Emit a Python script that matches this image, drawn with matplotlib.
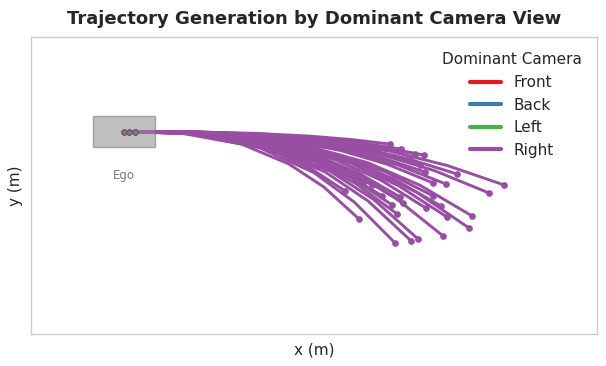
import matplotlib
matplotlib.use("Agg")
import matplotlib.pyplot as plt
from matplotlib.patches import Rectangle
from matplotlib.lines import Line2D
import seaborn as sns

sns.set_theme(style="whitegrid")
plt.rcParams['font.family'] = ['DejaVu Sans']

title = "Trajectory Generation by Dominant Camera View"
cameras = ["Front", "Back", "Left", "Right"]
camera_colors = ["#e41a1c", "#377eb8", "#4daf4a", "#984ea3"]

# Trajectory waypoints (meters); all have dominant camera "Right"
traj_x = [
    [0.0, 4.29, 8.58, 12.01, 14.59, 17.16],
    [0.35, 4.47, 8.94, 12.51, 15.19, 17.87],
    [0.7, 4.84, 9.68, 13.55, 16.45, 19.35],
    [0.0, 5.37, 10.74, 15.04, 18.26, 21.48],
    [0.35, 5.19, 10.39, 14.54, 17.65, 20.77],
    [0.7, 4.99, 9.97, 13.96, 16.95, 19.94],
    [0.0, 4.86, 9.71, 13.59, 16.51, 19.42],
    [0.35, 6.13, 12.26, 17.16, 20.84, 24.52],
    [0.7, 5.89, 11.78, 16.49, 20.02, 23.55],
    [0.0, 5.61, 11.23, 15.72, 19.08, 22.45],
    [0.35, 5.57, 11.13, 15.58, 18.92, 22.26],
    [0.7, 5.15, 10.29, 14.41, 17.49, 20.58],
    [0.0, 5.21, 10.42, 14.59, 17.71, 20.84],
    [0.35, 5.11, 10.23, 14.32, 17.38, 20.45],
    [0.7, 4.87, 9.74, 13.64, 16.56, 19.48],
    [0.0, 4.74, 9.49, 13.28, 16.12, 18.97],
    [0.35, 4.63, 9.26, 12.96, 15.74, 18.52],
    [0.7, 4.37, 8.74, 12.24, 14.86, 17.48],
    [0.0, 4.40, 8.81, 12.33, 14.97, 17.61],
    [0.35, 4.50, 9.00, 12.60, 15.30, 18.00],
    [0.7, 4.16, 8.33, 11.66, 14.15, 16.65],
    [0.0, 4.45, 8.91, 12.47, 15.14, 17.81],
    [0.35, 3.79, 7.58, 10.61, 12.89, 15.16],
    [0.7, 3.57, 7.13, 9.98, 12.12, 14.26],
    [0.0, 4.00, 8.00, 11.20, 13.60, 16.00],
    [0.35, 4.78, 9.55, 13.37, 16.24, 19.10],
    [0.7, 4.99, 9.97, 13.96, 16.95, 19.94],
    [0.0, 4.32, 8.65, 12.10, 14.70, 17.29],
    [0.35, 4.69, 9.39, 13.14, 15.95, 18.77],
    [0.7, 3.86, 7.71, 10.79, 13.11, 15.42],
    [0.0, 4.61, 9.23, 12.92, 15.68, 18.45],
]
traj_y = [
    [0.0, -0.02, -0.12, -0.30, -0.51, -0.81],
    [0.0, -0.02, -0.16, -0.42, -0.72, -1.13],
    [0.0, -0.03, -0.22, -0.56, -0.96, -1.52],
    [0.0, -0.06, -0.39, -1.01, -1.74, -2.74],
    [0.0, -0.07, -0.49, -1.25, -2.15, -3.39],
    [0.0, -0.07, -0.48, -1.22, -2.10, -3.32],
    [0.0, -0.05, -0.38, -0.96, -1.65, -2.61],
    [0.0, -0.07, -0.50, -1.27, -2.19, -3.45],
    [0.0, -0.08, -0.57, -1.46, -2.52, -3.97],
    [0.0, -0.11, -0.78, -2.01, -3.46, -5.45],
    [0.0, -0.13, -0.90, -2.29, -3.95, -6.23],
    [0.0, -0.14, -0.97, -2.48, -4.27, -6.74],
    [0.0, -0.12, -0.79, -2.03, -3.50, -5.52],
    [0.0, -0.10, -0.69, -1.77, -3.05, -4.81],
    [0.0, -0.10, -0.71, -1.82, -3.13, -4.94],
    [0.0, -0.15, -1.00, -2.55, -4.40, -6.94],
    [0.0, -0.15, -1.02, -2.60, -4.48, -7.06],
    [0.0, -0.15, -1.04, -2.65, -4.56, -7.19],
    [0.0, -0.11, -0.77, -1.96, -3.37, -5.32],
    [0.0, -0.10, -0.66, -1.70, -2.92, -4.61],
    [0.0, -0.09, -0.60, -1.53, -2.64, -4.16],
    [0.0, -0.09, -0.61, -1.56, -2.68, -4.23],
    [0.0, -0.12, -0.81, -2.08, -3.58, -5.65],
    [0.0, -0.08, -0.55, -1.41, -2.43, -3.84],
    [0.0, -0.07, -0.50, -1.27, -2.19, -3.45],
    [0.0, -0.05, -0.31, -0.79, -1.37, -2.16],
    [0.0, -0.09, -0.60, -1.53, -2.64, -4.16],
    [0.0, -0.10, -0.68, -1.74, -3.01, -4.74],
    [0.0, -0.03, -0.21, -0.53, -0.92, -1.45],
    [0.0, -0.07, -0.48, -1.22, -2.10, -3.32],
    [0.0, -0.04, -0.26, -0.68, -1.17, -1.84],
]
traj_camera = ["Right"] * len(traj_x)

fig = plt.figure(figsize=(6.06, 3.66), dpi=100)
ax = fig.add_axes([31/606, 1-334/366, (597-31)/606, (334-37)/366])
ax.set_facecolor("white")

for xs, ys, cam in zip(traj_x, traj_y, traj_camera):
    c = camera_colors[cameras.index(cam)]
    ax.plot(xs, ys, color=c, lw=2.1, solid_capstyle="round",
            solid_joinstyle="round", zorder=2)
    ax.plot(xs[-1], ys[-1], "o", color=c, ms=3.8, zorder=3)
    ax.plot(xs[0], ys[0], "o", color=c, mec="#4a2a50", ms=3.5, mew=0.8, zorder=3)

ax.add_patch(Rectangle((-2.0, -1.0), 4.0, 2.0, facecolor="#8c8c8c",
                       edgecolor="#6e6e6e", alpha=0.55, lw=1.0, zorder=4))
ax.text(0, -2.85, "Ego", ha="center", va="center", fontsize=8.5, color="#7a7a7a")

ax.set_xlim(-6.0, 30.5)
ax.set_ylim(-13.06, 6.1)
ax.set_xticks([])
ax.set_yticks([])
ax.grid(False)
for s in ax.spines.values():
    s.set_color("#cccccc")
    s.set_linewidth(1.0)

ax.set_xlabel("x (m)", fontsize=11, color="#262626", labelpad=6)
ax.set_ylabel("y (m)", fontsize=11, color="#262626", labelpad=6)
ax.set_title(title, fontsize=13, fontweight="bold", color="#262626", pad=9)

handles = [Line2D([0], [0], color=c, lw=3) for c in camera_colors]
leg = ax.legend(handles, cameras, title="Dominant Camera", loc="upper right",
                frameon=False, fontsize=11, title_fontsize=11,
                handlelength=2.0, borderaxespad=0.6)
for t in leg.get_texts():
    t.set_color("#262626")

fig.savefig("out.png", dpi=100)
